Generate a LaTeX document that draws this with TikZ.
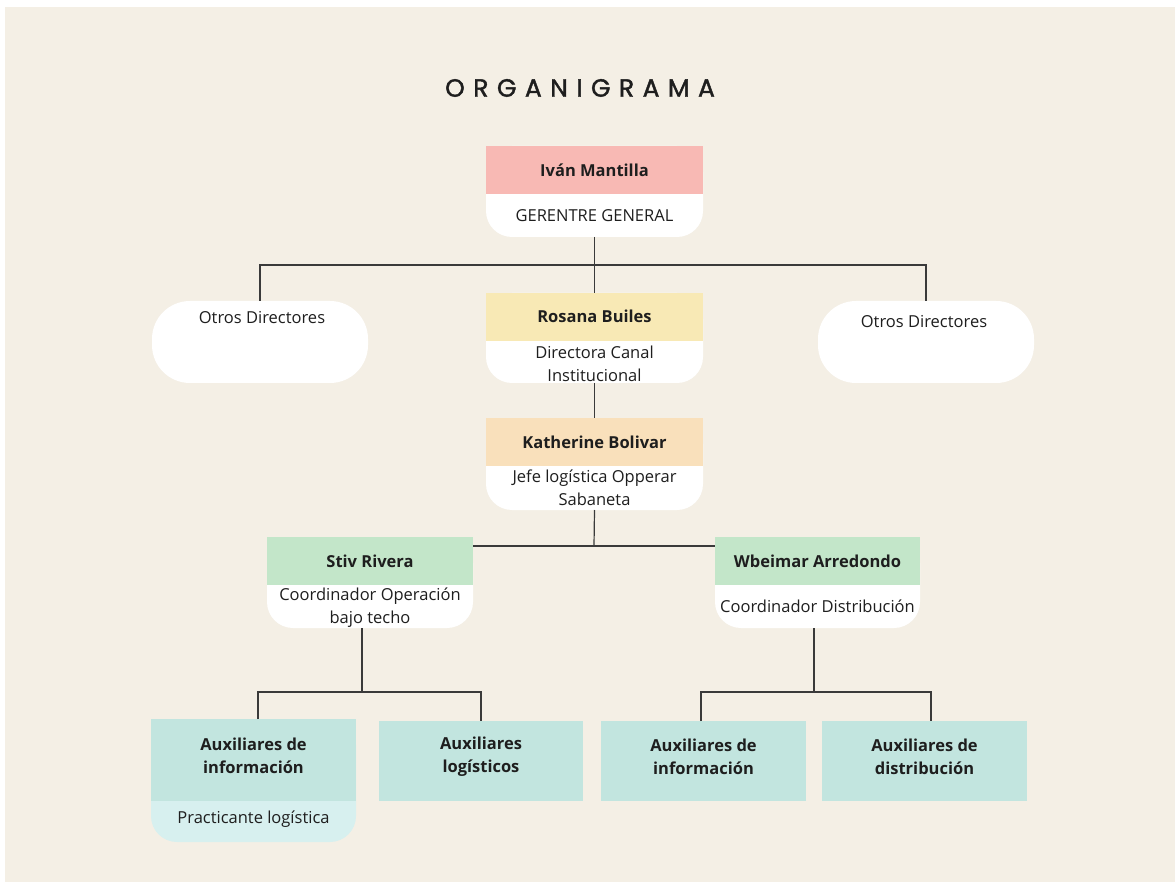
\documentclass[tikz,border=0pt]{standalone}
\usepackage{fontspec}
\setmainfont{Open Sans}
\newfontfamily\titlefont[LetterSpace=34, FakeBold=1.6]{Poppins}
\usetikzlibrary{calc}
\definecolor{bgc}{HTML}{F4EFE5}
\definecolor{pinkc}{HTML}{F8B9B4}
\definecolor{yelc}{HTML}{F8E9B5}
\definecolor{peachc}{HTML}{F9E0BB}
\definecolor{greenc}{HTML}{C3E6C9}
\definecolor{tealc}{HTML}{C2E5DF}
\definecolor{lteal}{HTML}{D7F0EF}
\definecolor{linec}{HTML}{3A3A3A}
\definecolor{txt}{HTML}{1E1E1E}
\tikzset{
  cardbox/.style={inner sep=0pt, outer sep=0pt, draw=none},
  conn/.style={draw=linec, line width=1.2pt},
  ttl/.style={font=\fontsize{16.5}{23}\selectfont\bfseries, text=txt, align=center, inner sep=0pt},
  sub/.style={font=\fontsize{16.5}{23}\selectfont, text=txt, align=center, inner sep=0pt},
}
% card: name, x1, y1, x2, y2, header bottom, colour, lower colour
\newcommand{\mycard}[8]{%
  \node[cardbox, minimum width={(#4-#2)*1pt}, minimum height={(#5-#3)*1pt}] (#1) at ({(#2+#4)/2},{(#3+#5)/2}) {};
  \fill[#8, rounded corners=26pt] (#1.north west) rectangle (#1.south east);
  \fill[#7] (#1.north west) rectangle (#4,#6);
}
\begin{document}
\begin{tikzpicture}[x=1pt,y=-1pt]
\useasboundingbox (0,0) rectangle (1175,882);
\fill[white] (0,0) rectangle (1175,882);
\fill[bgc] (5,7) rectangle (1175,882);

\node[font=\titlefont\fontsize{25}{28}\selectfont, text=txt, inner sep=0pt] (title) at (580,88) {ORGANIGRAMA};

% top
\mycard{iv}{486}{146}{703}{237}{194}{pinkc}{white}
\node[ttl] (ivt) at (594.5,170) {Iván Mantilla};
\node[sub] (ivs) at (594.5,216) {GERENTRE GENERAL};

% otros directores
\node[cardbox, minimum width=216pt, minimum height=82pt, fill=white, rounded corners=38pt] (od1) at (260,342) {};
\node[sub] (od1t) at (262,318) {Otros Directores};
\node[cardbox, minimum width=216pt, minimum height=82pt, fill=white, rounded corners=38pt] (od2) at (926,342) {};
\node[sub] (od2t) at (924,322) {Otros Directores};

% rosana
\mycard{ro}{486}{293}{703}{383}{341}{yelc}{white}
\node[ttl] (rot) at (594.5,316) {Rosana Builes};
\node[sub] (ros) at (594.5,363.5) {Directora Canal\\Institucional};

% katherine
\mycard{ka}{486}{418}{703}{510}{466}{peachc}{white}
\node[ttl] (kat) at (594.5,442) {Katherine Bolivar};
\node[sub] (kas) at (594.5,488) {Jefe logística Opperar\\Sabaneta};

% stiv
\mycard{st}{267}{537}{473}{628}{585}{greenc}{white}
\node[ttl] (stt) at (370,561) {Stiv Rivera};
\node[sub] (sts) at (370,607.5) {Coordinador Operación\\bajo techo};

% wbeimar
\mycard{wb}{715}{537}{920}{628}{585}{greenc}{white}
\node[ttl] (wbt) at (817.5,561) {Wbeimar Arredondo};
\node[sub] (wbs) at (817.5,606) {Coordinador Distribución};

% auxiliares
\mycard{a1}{151}{719}{356}{842}{801}{tealc}{lteal}
\node[ttl] (a1t) at (253.5,755.5) {Auxiliares de\\información};
\node[sub] (a1s) at (253.5,819) {Practicante logística};

\node[cardbox, fill=tealc, minimum width=204pt, minimum height=80pt] (a2) at (481,761) {};
\node[ttl] (a2t) at (481,756.5) {Auxiliares\\logísticos};
\node[cardbox, fill=tealc, minimum width=205pt, minimum height=80pt] (a3) at (703.5,761) {};
\node[ttl] (a3t) at (703.5,756.5) {Auxiliares de\\información};
\node[cardbox, fill=tealc, minimum width=205pt, minimum height=80pt] (a4) at (924.5,761) {};
\node[ttl] (a4t) at (924.5,756.5) {Auxiliares de\\distribución};

% connectors
\coordinate (j1) at (594,265);
\coordinate (j2) at (594,546);
\coordinate (j3) at (362,692);
\coordinate (j4) at (814,692);
\draw[conn] (iv.south) -- (ro.north);
\draw[conn] (od1.north) |- (j1) -| (od2.north);
\draw[conn] (ro.south) -- (ka.north);
\draw[conn] (ka.south) -- (j2);
\draw[conn] (st.east |- j2) -- (wb.west |- j2);
\draw[conn] (st.south -| j3) -- (j3);
\draw[conn] ([xshift=4.5pt]a1.north) |- (j3) -| (a2.north);
\draw[conn] (wb.south -| j4) -- (j4);
\draw[conn] ([xshift=-2.5pt]a3.north) |- (j4) -| ([xshift=6.5pt]a4.north);
\end{tikzpicture}
\end{document}
